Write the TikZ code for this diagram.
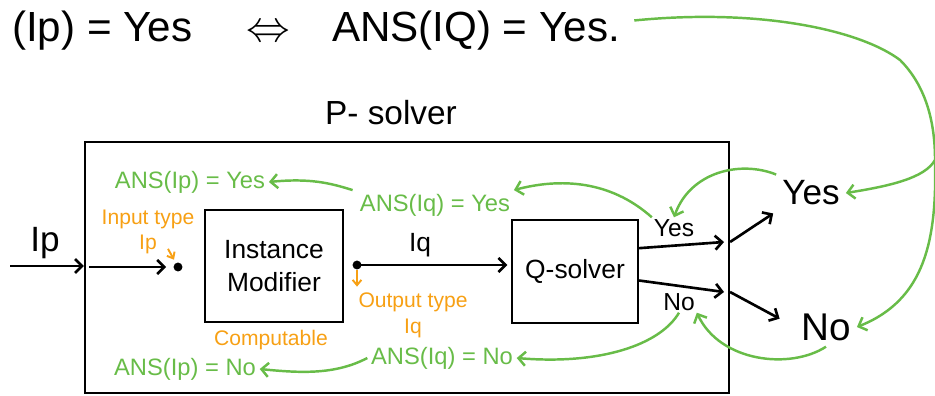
\documentclass[tikz,border=0pt]{standalone}
\usepackage{fontspec}
\setmainfont{Liberation Sans}
\usepackage{tikz}
\usetikzlibrary{arrows.meta, positioning}
\definecolor{anscolor}{RGB}{104, 188, 72}
\definecolor{typecolor}{RGB}{247, 160, 20}

\begin{document}
\begin{tikzpicture}[
    x=0.02cm, y=-0.02cm,
    frame/.style={draw, line width=1.3pt, inner sep=0pt},
    solver/.style={draw, line width=1.3pt, align=center, font=\fontsize{15}{19}\selectfont},
    flow/.style={-{Straight Barb[length=4pt, width=8pt]}, line width=1.5pt},
    port/.style={circle, fill, inner sep=1.8pt},
    ans/.style={text=anscolor, font=\fontsize{13.5}{16}\selectfont, inner sep=2pt},
    feedback/.style={-{Straight Barb[length=4pt, width=8pt]}, draw=anscolor, line width=1.4pt},
    typenote/.style={text=typecolor, align=center, font=\fontsize{12}{14}\selectfont, inner sep=1pt},
    typearrow/.style={-{Straight Barb[length=3pt, width=5pt]}, draw=typecolor, line width=1.1pt},
    answer/.style={font=\fontsize{14}{16}\selectfont, inner sep=1pt}
]
    \useasboundingbox (0,0) rectangle (935,395);

    % Reduction statement
    \node[font=\fontsize{24}{27}\selectfont, inner sep=0pt] (claim) at (316,31) {(Ip) = Yes \quad$\Leftrightarrow$\quad ANS(IQ) = Yes.};

    % P-solver frame
    \node[font=\fontsize{19}{22}\selectfont] (ptitle) at (391,113) {P- solver};
    \node[frame, minimum width=12.88cm, minimum height=5.02cm] (psolver) at (407,267.5) {};

    % Inner boxes
    \node[solver, minimum width=2.76cm, minimum height=2.24cm] (modifier) at (274,266) {Instance\\Modifier};
    \node[solver, minimum width=2.52cm, minimum height=2.06cm] (qsolver) at (575,271.5) {Q-solver};

    % Input side
    \coordinate (ipsrc) at (10,266);
    \node[font=\fontsize{20}{22}\selectfont] (iplabel) at (45,243) {Ip};
    \node[port] (indot) at (178,267) {};
    \node[port] (outdot) at (357,265) {};
    \node[font=\fontsize{15}{17}\selectfont] (iqlabel) at (420,245) {Iq};

    % Type notes
    \node[typenote] (intype) at (148,232) {Input type\\Ip};
    \node[typenote, font=\fontsize{12}{15}\selectfont] (outtype) at (413,315) {Output type\\Iq};
    \node[typenote] (computable) at (271,340) {Computable};

    % Outputs of the Q-solver
    \coordinate (yesexit) at (724,242);
    \coordinate (noexit) at (724,292);
    \node[answer] (yeslbl) at (674,228) {Yes};
    \node[answer] (nolbl) at (679,302) {No};
    \node[font=\fontsize{20}{22}\selectfont] (bigyes) at (811,193) {Yes};
    \node[font=\fontsize{22}{24}\selectfont] (bigno) at (826,327) {No};

    % Answers carried back
    \node[ans] (ipyes) at (190,182) {ANS(Ip) = Yes};
    \node[ans] (iqyes) at (435,205) {ANS(Iq) = Yes};
    \node[ans] (iqno) at (442,358) {ANS(Iq) = No};
    \node[ans] (ipno) at (185,369) {ANS(Ip) = No};

    % Black flow
    \draw[flow] (ipsrc) -- (psolver.west |- ipsrc);
    \draw[flow, shorten >=4pt] ([xshift=3pt]psolver.west |- indot) -- (indot);
    \draw[flow, shorten >=2pt] (outdot.center) -- (qsolver.west |- outdot);
    \draw[flow] (qsolver.20) -- (yesexit);
    \draw[flow] (qsolver.-8) -- (noexit);
    \draw[flow, shorten >=2pt] (psolver.east |- yesexit) -- (bigyes.south west);
    \draw[flow, shorten >=10pt] (psolver.east |- noexit) -- (bigno.west);

    % Orange pointers
    \draw[typearrow, shorten >=2pt] ([shift={(20,-7)}]intype.south) -- (indot);
    \draw[typearrow, shorten >=2pt] (outdot.south) -- (outdot.south |- outtype.north);

    % Green feedback curves
    \coordinate (split) at (935,160);
    \draw[anscolor, line width=1.4pt] ([xshift=8pt, yshift=6pt]claim.east) .. controls (760,8) and (860,30) .. (900,60)
        .. controls (925,85) and (935,120) .. (split);
    \draw[feedback] (split) .. controls (925,178) and (890,186) .. (bigyes.east);
    \draw[feedback] (split) .. controls (937,240) and (925,300) .. (bigno.east);
    \draw[feedback] (bigyes.north west) .. controls (740,160) and (690,172) .. (yeslbl.north);
    \draw[feedback] (bigno.south) .. controls (790,370) and (720,362) .. (nolbl.south east);
    \draw[feedback] (yeslbl.north west) .. controls (610,180) and (560,178) .. (iqyes.north east);
    \draw[feedback] ([xshift=-2pt]iqyes.north west) .. controls (330,183) and (310,178) .. (ipyes.east);
    \draw[feedback] (nolbl.south) .. controls (660,345) and (600,365) .. (iqno.east);
    \draw[feedback] (iqno.west) .. controls (335,375) and (300,373) .. (ipno.east);

\end{tikzpicture}
\end{document}
